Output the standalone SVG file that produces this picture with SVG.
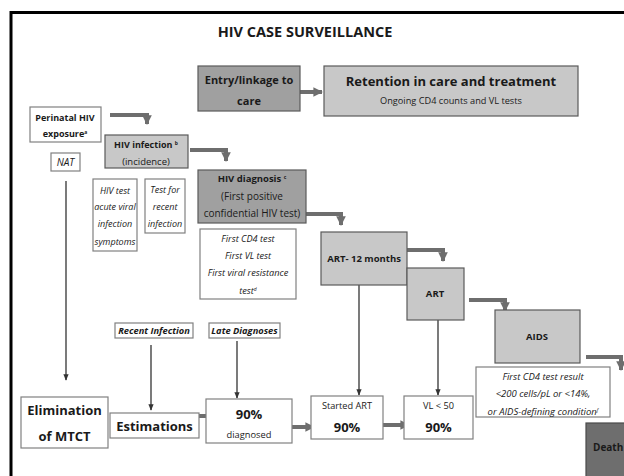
<svg xmlns="http://www.w3.org/2000/svg" width="624" height="476" viewBox="0 0 624 476">
<defs>
<style>
text{font-family:"Open Sans","Liberation Sans",sans-serif;fill:#1a1a1a;text-anchor:middle}
.b{font-weight:bold}
.i{font-style:italic}
.lg{fill:#c8c8c8;stroke:#5a5a5a;stroke-width:1.2}
.dg{fill:#a0a0a0;stroke:#5a5a5a;stroke-width:1.2}
.wb{fill:#fff;stroke:#808080;stroke-width:1.2}
.thick{fill:none;stroke:#6e6e6e;stroke-width:4}
.thin{fill:none;stroke:#333;stroke-width:1.3}
</style>
<marker id="ah" viewBox="0 0 10 10" refX="9" refY="5" markerWidth="2.4" markerHeight="2.4" orient="auto" markerUnits="strokeWidth">
<path d="M0,0 L10,5 L0,10 z" fill="#6e6e6e"/>
</marker>
<marker id="at" viewBox="0 0 10 10" refX="9" refY="5" markerWidth="5" markerHeight="5" orient="auto" markerUnits="strokeWidth">
<path d="M0,1 L10,5 L0,9 z" fill="#333"/>
</marker>
</defs>
<rect width="624" height="476" fill="#fff"/>
<path d="M11,480 V12.5 H630" fill="none" stroke="#000" stroke-width="3"/>
<text x="305" y="37" class="b" font-size="14.5">HIV CASE SURVEILLANCE</text>

<g id="connectors">
<path class="thick" d="M300,92 H322" marker-end="url(#ah)"/>
<path class="thick" d="M110,115 H147 V124" marker-end="url(#ah)"/>
<path class="thick" d="M190,150 H226 V161" marker-end="url(#ah)"/>
<path class="thick" d="M306,214 H341 V225" marker-end="url(#ah)"/>
<path class="thick" d="M407,250 H443 V261" marker-end="url(#ah)"/>
<path class="thick" d="M469,300 H505 V311" marker-end="url(#ah)"/>
<path class="thick" d="M586,357 H621 V370" marker-end="url(#ah)"/>
<path class="thick" d="M185,416 H217" marker-end="url(#ah)"/>
<path class="thick" d="M288,427 H314" marker-end="url(#ah)"/>
<path class="thick" d="M377,425 H409" marker-end="url(#ah)"/>
<path class="thin" d="M66,181 V380" marker-end="url(#at)"/>
<path class="thin" d="M151,345 V410" marker-end="url(#at)"/>
<path class="thin" d="M237,341 V398" marker-end="url(#at)"/>
<path class="thin" d="M359,285 V395" marker-end="url(#at)"/>
<path class="thin" d="M438,320 V395" marker-end="url(#at)"/>
</g>

<g id="entry">
<rect class="dg" x="198" y="66" width="102" height="45"/>
<text x="249" y="84" class="b" font-size="11">Entry/linkage to</text>
<text x="249" y="105" class="b" font-size="11">care</text>
</g>
<g id="retention">
<rect class="lg" x="324" y="66" width="254" height="50"/>
<text x="451" y="86" class="b" font-size="13">Retention in care and treatment</text>
<text x="451" y="104" font-size="9.2">Ongoing CD4 counts and VL tests</text>
</g>
<g id="perinatal">
<rect class="wb" x="30" y="107" width="71" height="35"/>
<text x="65" y="121" class="b" font-size="9">Perinatal HIV</text>
<text x="65" y="137" class="b" font-size="9">exposure<tspan font-size="5" dy="-3">a</tspan></text>
</g>
<g id="nat">
<rect class="wb" x="51" y="153" width="29" height="18"/>
<text x="65.5" y="166" class="i" font-size="10">NAT</text>
</g>
<g id="infection">
<rect class="lg" x="105" y="135" width="83" height="33"/>
<text x="146" y="148" class="b" font-size="9">HIV infection <tspan font-size="5" dy="-3">b</tspan></text>
<text x="146" y="165" font-size="9.5">(incidence)</text>
</g>
<g id="acute">
<rect class="wb" x="93" y="179" width="44" height="72"/>
<text x="115" y="194" class="i" font-size="9">HIV test</text>
<text x="115" y="210" class="i" font-size="9">acute viral</text>
<text x="115" y="227" class="i" font-size="9">infection</text>
<text x="115" y="245" class="i" font-size="9">symptoms</text>
</g>
<g id="recenttest">
<rect class="wb" x="145" y="179" width="40" height="54"/>
<text x="165" y="193" class="i" font-size="9">Test for</text>
<text x="165" y="210" class="i" font-size="9">recent</text>
<text x="165" y="227" class="i" font-size="9">infection</text>
</g>
<g id="diagnosis">
<rect class="dg" x="198" y="170" width="108" height="53"/>
<text x="252" y="182" class="b" font-size="9.5">HIV diagnosis <tspan font-size="5" dy="-3">c</tspan></text>
<text x="252" y="200" font-size="10">(First positive</text>
<text x="252" y="217" font-size="10">confidential HIV test)</text>
</g>
<g id="firsttests">
<rect class="wb" x="200" y="229" width="96" height="70"/>
<text x="248" y="242" class="i" font-size="9.2">First CD4 test</text>
<text x="248" y="259" class="i" font-size="9.2">First VL test</text>
<text x="248" y="276" class="i" font-size="9.2">First viral resistance</text>
<text x="248" y="294" class="i" font-size="9.2">test<tspan font-size="5" dy="-3">d</tspan></text>
</g>
<g id="art12">
<rect class="lg" x="321" y="232" width="86" height="53"/>
<text x="364" y="262" class="b" font-size="9.5">ART- 12 months</text>
</g>
<g id="art">
<rect class="lg" x="407" y="268" width="57" height="52"/>
<text x="435" y="297" class="b" font-size="9.5">ART</text>
</g>
<g id="aids">
<rect class="lg" x="495" y="310" width="85" height="53"/>
<text x="537" y="340" class="b" font-size="9.5">AIDS</text>
</g>
<g id="aidsdef">
<rect class="wb" x="476" y="367" width="134" height="50"/>
<text x="543" y="380" class="i" font-size="9.5">First CD4 test result</text>
<text x="543" y="397" class="i" font-size="9.5">&lt;200 cells/pL or &lt;14%,</text>
<text x="543" y="415" class="i" font-size="9.5">or AIDS-defining condition<tspan font-size="5" dy="-3">f</tspan></text>
</g>
<g id="death">
<rect x="586" y="423" width="45" height="60" fill="#6e6e6e" stroke="#4a4a4a" stroke-width="1.2"/>
<text x="593" y="451" class="b" font-size="10" style="text-anchor:start">Death</text>
</g>
<g id="mtct">
<rect class="wb" x="21" y="397" width="87" height="51"/>
<text x="64.5" y="415" class="b" font-size="13">Elimination</text>
<text x="64.5" y="441" class="b" font-size="13">of MTCT</text>
</g>
<g id="estimations">
<rect class="wb" x="110" y="413" width="89" height="25"/>
<text x="154.5" y="431" class="b" font-size="13">Estimations</text>
</g>
<g id="recentinf">
<rect class="wb" x="115" y="323" width="78" height="15"/>
<text x="154" y="334" class="b i" font-size="9.3">Recent Infection</text>
</g>
<g id="latediag">
<rect class="wb" x="209" y="323" width="71" height="15"/>
<text x="244.5" y="334" class="b i" font-size="9.3">Late Diagnoses</text>
</g>
<g id="diagnosed">
<rect class="wb" x="206" y="399" width="86" height="44"/>
<text x="249" y="419" class="b" font-size="13">90%</text>
<text x="249" y="438" font-size="9.3">diagnosed</text>
</g>
<g id="started">
<rect class="wb" x="311" y="396" width="72" height="43"/>
<text x="347" y="409" font-size="9.2">Started ART</text>
<text x="347" y="432" class="b" font-size="13">90%</text>
</g>
<g id="vl">
<rect class="wb" x="404" y="396" width="69" height="43"/>
<text x="438.5" y="409" font-size="9.2">VL &lt; 50</text>
<text x="438.5" y="432" class="b" font-size="13">90%</text>
</g>
</svg>
